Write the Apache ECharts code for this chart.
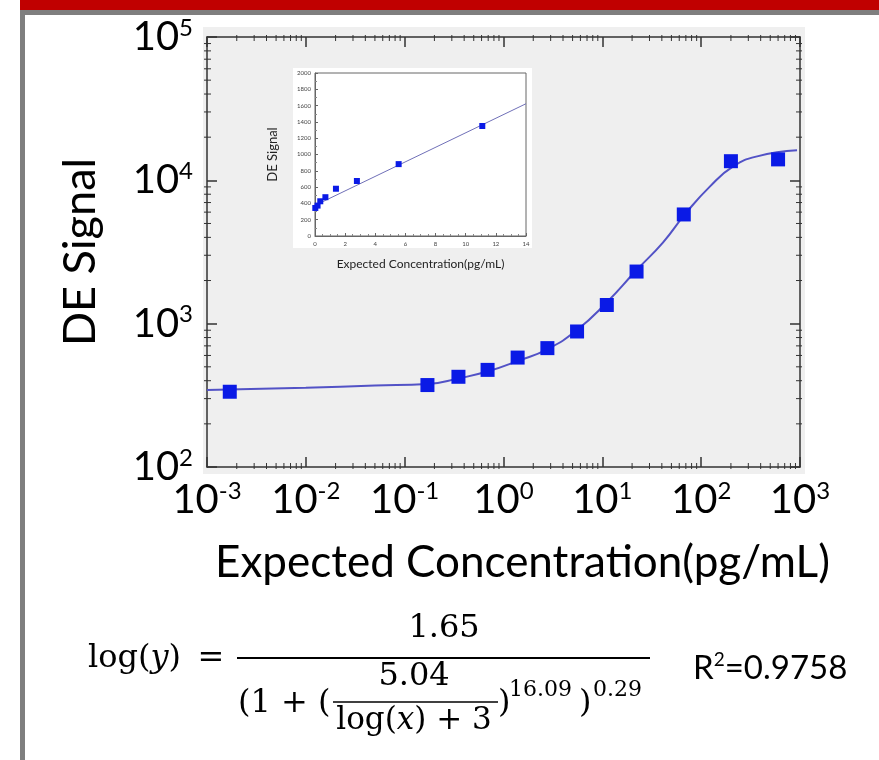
<!DOCTYPE html>
<html>
<head>
<meta charset="utf-8">
<script src="https://cdn.jsdelivr.net/npm/echarts@6/dist/echarts.min.js"></script>
<style>
  html, body { margin: 0; padding: 0; background: #fff; }
  #main { width: 879px; height: 760px; }
</style>
</head>
<body>
<div id="main"></div>
<script>
// measured points (pg/mL vs DE signal)
const concX = [0.0017, 0.17, 0.35, 0.69, 1.39, 2.78, 5.55, 11.1, 22.2, 66.7, 200, 600]
const signal = [335, 373, 426, 476, 580, 675, 882, 1350, 2310, 5780, 13600, 14000]

// fitted curve
const fitX = [0.001, 0.01, 0.05, 0.17, 0.35, 0.7, 1.4, 2.8, 5.5, 11, 22, 41, 70, 123, 211, 369, 933]
const fitY = [345, 357, 370, 380, 415, 465, 550, 665, 900, 1400, 2350, 3680, 5900, 9080, 12500, 14700, 16200]

// inset (linear range)
const insetX = [0.02, 0.17, 0.35, 0.69, 1.39, 2.78, 5.55, 11.1]
const insetY = [344, 373, 426, 476, 580, 675, 882, 1350]
const insetLineX = [0.5, 14]
const insetLineY = [420, 1623]

// minor ticks of the log axes
const decadesX = [0.001, 0.01, 0.1, 1, 10, 100]
const decadesY = [100, 1000, 10000]
const minorSteps = [2, 3, 4, 5, 6, 7, 8, 9]
const minorX = decadesX.flatMap(d => minorSteps.map(s => d * s))
const minorY = decadesY.flatMap(d => minorSteps.map(s => d * s))

const sans = 'Lato'
const serif = 'DejaVu Serif'
const axisColor = '#333'

function powLabel (value) {
  const e = Math.round(Math.log10(value))
  return '{b|10}{s|' + e + '}'
}
const powRich = {
  b: { fontSize: 40, lineHeight: 42, fontFamily: sans, color: '#000' },
  s: { fontSize: 24, lineHeight: 24, fontFamily: sans, color: '#000', verticalAlign: 'top' }
}

function tickRenderer (horizontal) {
  return function (params, api) {
    const cs = params.coordSys
    const p = api.coord([api.value(0), api.value(1)])
    const st = { stroke: axisColor, lineWidth: 1 }
    if (horizontal) {
      const b = cs.y + cs.height
      return {
        type: 'group',
        children: [
          { type: 'line', shape: { x1: p[0], y1: b + 2, x2: p[0], y2: b - 4 }, style: st },
          { type: 'line', shape: { x1: p[0], y1: cs.y - 2, x2: p[0], y2: cs.y + 4 }, style: st }
        ]
      }
    }
    const r = cs.x + cs.width
    return {
      type: 'group',
      children: [
        { type: 'line', shape: { x1: cs.x - 3, y1: p[1], x2: cs.x + 4, y2: p[1] }, style: st },
        { type: 'line', shape: { x1: r + 2, y1: p[1], x2: r - 4, y2: p[1] }, style: st }
      ]
    }
  }
}

function serifText (x, y, text, size, align) {
  return {
    type: 'text', x: x, y: y,
    style: { text: text, fontSize: size, fontFamily: serif, fill: '#000', align: align || 'left', verticalAlign: 'middle' }
  }
}

const chart = echarts.init(document.getElementById('main'))
chart.setOption({
  animation: false,
  backgroundColor: '#fff',
  grid: [
    { left: 207, top: 37, width: 593, height: 430 },
    { left: 315, top: 73, width: 211, height: 163, show: true, backgroundColor: '#fff', borderColor: '#666', borderWidth: 1 }
  ],
  xAxis: [
    {
      type: 'log', gridIndex: 0, min: 0.001, max: 1000, logBase: 10,
      name: 'Expected Concentration(pg/mL)', nameLocation: 'middle', nameGap: 74,
      nameTextStyle: { fontSize: 44, fontFamily: sans, color: '#000', padding: [0, 0, 0, 38] },
      axisLine: { lineStyle: { color: axisColor, width: 1.5 } },
      axisTick: { inside: true, length: 10, lineStyle: { color: axisColor, width: 1.5 } },
      axisLabel: { margin: 12, formatter: powLabel, rich: powRich },
      splitLine: { show: false }
    },
    {
      type: 'log', gridIndex: 0, min: 0.001, max: 1000, logBase: 10, position: 'top',
      axisLine: { lineStyle: { color: axisColor, width: 1.5 } },
      axisTick: { inside: true, length: 10, lineStyle: { color: axisColor, width: 1.5 } },
      axisLabel: { show: false },
      splitLine: { show: false }
    },
    {
      type: 'value', gridIndex: 1, min: 0, max: 14, interval: 2,
      name: 'Expected Concentration(pg/mL)', nameLocation: 'middle', nameGap: 22,
      nameTextStyle: { fontSize: 12, fontFamily: sans, color: '#222' },
      axisLine: { lineStyle: { color: '#666', width: 1 } },
      axisTick: { inside: true, length: 3, lineStyle: { color: '#666' } },
      minorTick: { show: true, splitNumber: 4, length: 2, lineStyle: { color: '#888' } },
      axisLabel: { fontSize: 6, color: '#444', margin: 5, fontFamily: sans, formatter: v => String(v) },
      splitLine: { show: false }
    }
  ],
  yAxis: [
    {
      type: 'log', gridIndex: 0, min: 100, max: 100000, logBase: 10,
      name: 'DE Signal', nameLocation: 'middle', nameGap: 104, nameRotate: 90,
      nameTextStyle: { fontSize: 45, fontFamily: sans, color: '#000' },
      axisLine: { lineStyle: { color: axisColor, width: 1.5 } },
      axisTick: { inside: true, length: 10, lineStyle: { color: axisColor, width: 1.5 } },
      axisLabel: { margin: 14, formatter: powLabel, rich: powRich },
      splitLine: { show: false }
    },
    {
      type: 'log', gridIndex: 0, min: 100, max: 100000, logBase: 10, position: 'right',
      axisLine: { lineStyle: { color: axisColor, width: 1.5 } },
      axisTick: { inside: true, length: 10, lineStyle: { color: axisColor, width: 1.5 } },
      axisLabel: { show: false },
      splitLine: { show: false }
    },
    {
      type: 'value', gridIndex: 1, min: 0, max: 2000, interval: 200,
      name: 'DE Signal', nameLocation: 'middle', nameGap: 36, nameRotate: 90,
      nameTextStyle: { fontSize: 13, fontFamily: sans, color: '#222' },
      axisLine: { lineStyle: { color: '#666', width: 1 } },
      axisTick: { inside: true, length: 3, lineStyle: { color: '#666' } },
      minorTick: { show: true, splitNumber: 2, length: 2, lineStyle: { color: '#888' } },
      axisLabel: { fontSize: 6, color: '#444', margin: 4, fontFamily: sans, formatter: v => String(v) },
      splitLine: { show: false }
    }
  ],
  series: [
    {
      type: 'custom', xAxisIndex: 0, yAxisIndex: 0, silent: true, clip: false,
      renderItem: tickRenderer(true),
      data: minorX.map(v => [v, 100])
    },
    {
      type: 'custom', xAxisIndex: 0, yAxisIndex: 0, silent: true, clip: false,
      renderItem: tickRenderer(false),
      data: minorY.map(v => [1, v])
    },
    {
      name: 'fit', type: 'line', xAxisIndex: 0, yAxisIndex: 0,
      data: fitX.map((x, i) => [x, fitY[i]]),
      smooth: true, showSymbol: false,
      lineStyle: { color: '#5252c6', width: 2 }
    },
    {
      name: 'DE Signal', type: 'scatter', xAxisIndex: 0, yAxisIndex: 0,
      data: concX.map((x, i) => [x, signal[i]]),
      symbol: 'rect', symbolSize: 14,
      itemStyle: { color: '#0a1ae6', opacity: 1 }, z: 5
    },
    {
      name: 'inset fit', type: 'line', xAxisIndex: 2, yAxisIndex: 2,
      data: insetLineX.map((x, i) => [x, insetLineY[i]]),
      showSymbol: false,
      lineStyle: { color: '#7070b8', width: 1 }
    },
    {
      name: 'inset', type: 'scatter', xAxisIndex: 2, yAxisIndex: 2,
      data: insetX.map((x, i) => [x, insetY[i]]),
      symbol: 'rect', symbolSize: 6,
      itemStyle: { color: '#0a1ae6', opacity: 1 }, z: 5
    }
  ],
  graphic: [
    { type: 'rect', z: -10, shape: { x: 203, y: 27, width: 602, height: 447 }, style: { fill: '#efefef' } },
    { type: 'rect', z: -5, shape: { x: 293, y: 68, width: 239, height: 180 }, style: { fill: '#fff' } },
    { type: 'rect', shape: { x: 20, y: 0, width: 859, height: 10 }, style: { fill: '#c00000' } },
    { type: 'rect', shape: { x: 20, y: 10, width: 859, height: 5 }, style: { fill: '#7f7f7f' } },
    { type: 'rect', shape: { x: 20, y: 10, width: 5, height: 750 }, style: { fill: '#7f7f7f' } },
    // fit equation
    {
      type: 'text', x: 88, y: 659,
      style: {
        text: '{n|log(}{i|y}{n|)}', verticalAlign: 'middle',
        rich: {
          n: { fontSize: 32, fontFamily: serif, fill: '#000' },
          i: { fontSize: 32, fontFamily: serif, fontStyle: 'italic', fill: '#000' }
        }
      }
    },
    serifText(211, 659, '=', 32, 'center'),
    serifText(444, 629, '1.65', 32, 'center'),
    { type: 'line', shape: { x1: 237, y1: 658, x2: 650, y2: 658 }, style: { stroke: '#000', lineWidth: 2 } },
    serifText(238, 704, '(1 + (', 32),
    serifText(414, 677, '5.04', 32, 'center'),
    { type: 'line', shape: { x1: 333, y1: 702, x2: 498, y2: 702 }, style: { stroke: '#000', lineWidth: 1.5 } },
    {
      type: 'text', x: 414, y: 721,
      style: {
        text: '{n|log(}{i|x}{n|) + 3}', align: 'center', verticalAlign: 'middle',
        rich: {
          n: { fontSize: 31, fontFamily: serif, fill: '#000' },
          i: { fontSize: 31, fontFamily: serif, fontStyle: 'italic', fill: '#000' }
        }
      }
    },
    serifText(498, 704, ')', 32),
    serifText(509, 690, '16.09', 22),
    serifText(579, 704, ')', 32),
    serifText(593, 690, '0.29', 22),
    {
      type: 'text', x: 693, y: 668,
      style: {
        text: '{r|R}{s|2}{r|=0.9758}', verticalAlign: 'middle',
        rich: {
          r: { fontSize: 33, lineHeight: 36, fontFamily: sans, fill: '#000' },
          s: { fontSize: 19, lineHeight: 19, fontFamily: sans, fill: '#000', verticalAlign: 'top' }
        }
      }
    }
  ]
})
</script>
</body>
</html>
